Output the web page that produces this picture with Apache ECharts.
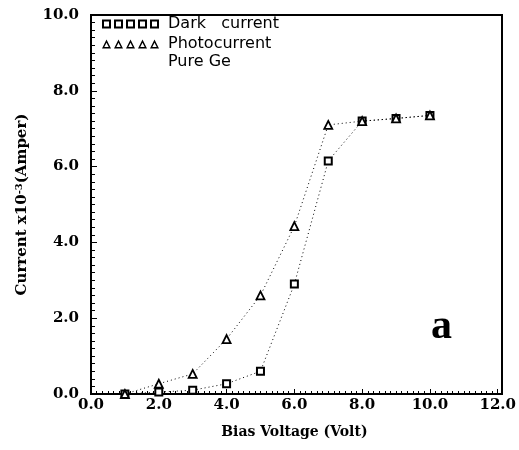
<!DOCTYPE html>
<html>
<head>
<meta charset="utf-8">
<script src="https://cdn.jsdelivr.net/npm/echarts@6/dist/echarts.min.js"></script>
<style>
  html, body { margin: 0; padding: 0; background: #fff; }
  #chart { width: 519px; height: 450px; }
</style>
</head>
<body>
<div id="chart"></div>
<script>
// bias voltage (Volt)
const voltage = [1, 2, 3, 4, 5, 6, 7, 8, 9, 10];
// current x10^-3 (Amper)
const darkCurrent = [0.0, 0.05, 0.1, 0.27, 0.6, 2.9, 6.15, 7.2, 7.27, 7.35];
const photoCurrent = [0.0, 0.27, 0.53, 1.45, 2.6, 4.43, 7.1, 7.2, 7.27, 7.35];

const serif = "DejaVu Serif";
const chart = echarts.init(document.getElementById("chart"));

// legend icons: a row of five hollow squares / triangles
const squaresIcon = "path://" + [0, 12, 24, 36, 48].map((x) =>
  `M${x},1 h9 v9 h-9 Z M${x + 2},3 v5 h5 v-5 Z`).join(" ");
const trianglesIcon = "path://" + [0, 12, 24, 36, 48].map((x) =>
  `M${x + 4.5},1 L${x + 9},10 L${x},10 Z M${x + 4.5},4.2 L${x + 2.3},8.6 L${x + 6.7},8.6 Z`).join(" ");

const option = {
  animation: false,
  backgroundColor: "#fff",
  grid: { left: 91, right: 17, top: 15, bottom: 56 },
  legend: {
    left: 102,
    top: 14,
    padding: 0,
    orient: "vertical",
    itemGap: 0,
    itemWidth: 57,
    itemHeight: 10,
    textStyle: { fontFamily: "DejaVu Sans", fontSize: 16, lineHeight: 20, color: "#000", padding: [0, 0, 0, 4] },
    itemStyle: { color: "#000", borderWidth: 0 },
    data: [
      { name: "Dark   current", icon: squaresIcon },
      { name: "Photocurrent", icon: trianglesIcon }
    ]
  },
  xAxis: {
    type: "value",
    min: 0,
    max: 12,
    interval: 2,
    name: "Bias Voltage (Volt)",
    nameLocation: "middle",
    nameGap: 31,
    nameTextStyle: { fontFamily: serif, fontWeight: "bold", fontSize: 14, color: "#000" },
    axisLine: { onZero: false, lineStyle: { color: "#000", width: 2 } },
    axisTick: { inside: true, length: 5, lineStyle: { color: "#000" } },
    minorTick: { show: true, splitNumber: 12, length: 3, lineStyle: { color: "#000" } },
    axisLabel: {
      margin: 4,
      fontFamily: serif,
      fontWeight: "bold",
      fontSize: 15,
      color: "#000",
      formatter: (v) => v.toFixed(1)
    },
    splitLine: { show: false }
  },
  yAxis: {
    type: "value",
    min: 0,
    max: 10,
    interval: 2,
    name: "{n|Current x10}{s|-3}{n|(Amper)}",
    nameLocation: "middle",
    nameGap: 61,
    nameTextStyle: {
      rich: {
        n: { fontFamily: serif, fontWeight: "bold", fontSize: 15, color: "#000" },
        s: { fontFamily: serif, fontWeight: "bold", fontSize: 10, color: "#000", verticalAlign: "top", padding: [0, 0, 6, 0] }
      }
    },
    axisLine: { show: true, lineStyle: { color: "#000", width: 2 } },
    axisTick: { inside: true, length: 6, lineStyle: { color: "#000" } },
    minorTick: { show: true, splitNumber: 10, length: 4, lineStyle: { color: "#000" } },
    axisLabel: {
      margin: 12,
      fontFamily: serif,
      fontWeight: "bold",
      fontSize: 15,
      color: "#000",
      formatter: (v) => v.toFixed(1)
    },
    splitLine: { show: false }
  },
  graphic: [
    // box edges on the top and right
    {
      type: "rect",
      shape: { x: 91, y: 15, width: 411, height: 379 },
      style: { fill: "none", stroke: "#000", lineWidth: 2 },
      silent: true
    },
    {
      type: "text",
      left: 168,
      top: 54,
      style: { text: "Pure Ge", font: "16px 'DejaVu Sans'", fill: "#000" }
    },
    {
      type: "text",
      left: 431,
      top: 306,
      style: { text: "a", font: "bold 42px 'Liberation Serif'", fill: "#000" }
    }
  ],
  series: [
    {
      name: "Dark   current",
      type: "line",
      data: voltage.map((v, i) => [v, darkCurrent[i]]),
      symbol: "rect",
      symbolSize: 7,
      showAllSymbol: true,
      itemStyle: { color: "#fff", borderColor: "#000", borderWidth: 2 },
      lineStyle: { color: "#000", width: 1, type: [1, 3] }
    },
    {
      name: "Photocurrent",
      type: "line",
      data: voltage.map((v, i) => [v, photoCurrent[i]]),
      symbol: "triangle",
      symbolSize: 8,
      showAllSymbol: true,
      itemStyle: { color: "#fff", borderColor: "#000", borderWidth: 1.8 },
      lineStyle: { color: "#000", width: 1, type: [1, 3] }
    }
  ]
};

chart.setOption(option);
</script>
</body>
</html>
